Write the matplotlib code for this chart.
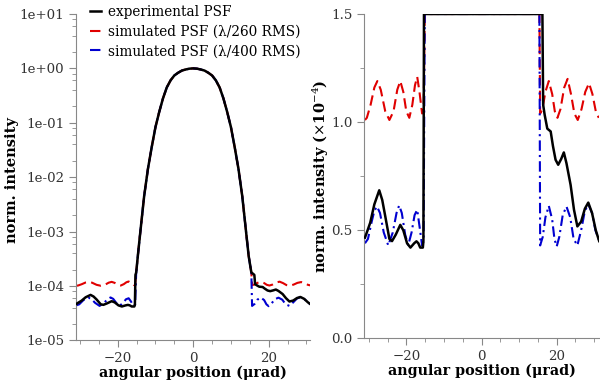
import numpy as np
import matplotlib
matplotlib.use('Agg')
import matplotlib.pyplot as plt
from matplotlib.ticker import MultipleLocator, LogLocator, FuncFormatter, NullFormatter

plt.rcParams['font.family'] = ['DejaVu Serif']
plt.rcParams['mathtext.fontset'] = 'dejavuserif'

# main lobe (shared by all three curves), log10 of the normalised intensity
core_x = [-15.1, -14.6, -14.0, -13.0, -12.0, -11.0, -10.0, -9.0, -8.0, -7.0, -6.0, -5.0, -4.0,
          -3.0, -2.0, -1.0, 0.0, 1.0, 2.0, 3.0, 4.0, 5.0, 6.0, 7.0, 8.0, 9.0, 10.0, 11.0,
          12.0, 13.0, 14.0, 14.7, 15.4]
core_log = [-3.75, -3.4, -3.0, -2.35, -1.85, -1.45, -1.08, -0.8, -0.55, -0.35, -0.22, -0.13, -0.08,
            -0.04, -0.02, -0.005, 0.0, -0.005, -0.02, -0.04, -0.08, -0.13, -0.22, -0.35, -0.55, -0.8,
            -1.08, -1.45, -1.85, -2.35, -3.0, -3.45, -3.75]

# wings, in units of 1e-4
exp_left_x = [-31.0, -30.3, -29.6, -28.5, -27.2, -26.4, -25.6, -24.5, -23.8, -22.8, -21.6, -20.8,
              -19.8, -18.9, -17.9, -17.3, -16.8, -16.3, -15.6, -15.45, -15.3]
exp_left_y = [0.466, 0.50, 0.535, 0.62, 0.685, 0.64, 0.565, 0.46, 0.45, 0.48, 0.525, 0.50,
              0.44, 0.42, 0.44, 0.449, 0.44, 0.42, 0.42, 0.45, 1.6]
exp_right_x = [16.2, 16.4, 16.8, 17.5, 18.4, 19.0, 19.7, 20.4, 21.2, 21.9, 22.6, 23.7, 24.6,
               25.5, 26.5, 27.5, 28.4, 29.4, 30.4, 31.3]
exp_right_y = [1.6, 1.08, 1.034, 0.97, 0.957, 0.89, 0.826, 0.803, 0.83, 0.86, 0.81, 0.71, 0.595,
               0.518, 0.54, 0.60, 0.628, 0.58, 0.50, 0.45]

s260_left_x = [-31.0, -30.5, -29.5, -28.5, -27.7, -26.8, -25.6, -24.5, -23.4, -22.4, -21.6, -20.8,
               -20.0, -19.2, -18.4, -17.7, -17.1, -16.5, -15.8, -15.4]
s260_left_y = [1.01, 1.02, 1.08, 1.16, 1.19, 1.15, 1.05, 1.01, 1.05, 1.15, 1.19, 1.14,
               1.05, 1.02, 1.08, 1.17, 1.21, 1.14, 1.04, 1.05]
s260_right_x = [15.6, 16.2, 17.0, 17.9, 18.8, 19.5, 20.2, 21.0, 22.0, 22.9, 23.8, 24.7, 25.6,
                26.6, 27.6, 28.6, 29.5, 30.4, 31.2]
s260_right_y = [1.04, 1.06, 1.14, 1.19, 1.13, 1.05, 1.02, 1.06, 1.16, 1.20, 1.13, 1.04, 1.01,
                1.06, 1.14, 1.18, 1.13, 1.05, 1.02]

s400_left_x = [-31.0, -30.2, -29.2, -28.5, -27.8, -27.0, -26.0, -24.8, -23.6, -22.6, -21.9, -21.2,
               -20.3, -19.5, -18.6, -17.8, -17.1, -16.5, -15.8, -15.4]
s400_left_y = [0.44, 0.46, 0.54, 0.59, 0.61, 0.58, 0.49, 0.43, 0.49, 0.58, 0.615, 0.58,
               0.48, 0.43, 0.49, 0.57, 0.595, 0.52, 0.43, 0.45]
s400_right_x = [15.6, 16.3, 17.0, 17.9, 18.8, 19.4, 20.0, 20.7, 21.6, 22.6, 23.6, 24.5, 25.5,
                26.5, 27.5, 28.4, 29.4, 30.3, 31.2]
s400_right_y = [0.43, 0.47, 0.56, 0.613, 0.55, 0.46, 0.425, 0.47, 0.57, 0.61, 0.56, 0.46, 0.43,
                0.50, 0.59, 0.62, 0.58, 0.50, 0.457]

labels = ['experimental PSF', 'simulated PSF (\u03bb/260 RMS)', 'simulated PSF (\u03bb/400 RMS)']


def build(lx, ly, rx, ry):
    x = np.concatenate([lx, core_x, rx])
    y = np.concatenate([np.array(ly) * 1e-4, 10.0 ** np.array(core_log), np.array(ry) * 1e-4])
    return x, y


curves = [
    (build(exp_left_x, exp_left_y, exp_right_x, exp_right_y), 'black', '-', 1.8, 3),
    (build(s260_left_x, s260_left_y, s260_right_x, s260_right_y), '#e00000', (0, (5, 2.5)), 1.5, 1),
    (build(s400_left_x, s400_left_y, s400_right_x, s400_right_y), '#0000d0', (0, (5, 2, 1, 2)), 1.5, 2),
]

fig = plt.figure(figsize=(6, 3.89), dpi=100)
ax1 = fig.add_axes([0.127, 0.125, 0.39, 0.839])
ax2 = fig.add_axes([0.607, 0.130, 0.391, 0.834])

# left: log scale
for i, ((x, y), c, ls, lw, z) in enumerate(curves):
    ax1.plot(x, y, color=c, ls=ls, lw=lw, label=labels[i], zorder=z)
ax1.set_yscale('log')
ax1.set_ylim(1e-5, 10)
ax1.set_xlim(-31, 31)
ax1.yaxis.set_major_locator(LogLocator(base=10, numticks=10))
ax1.yaxis.set_minor_locator(LogLocator(base=10, subs=[2, 4, 6, 8], numticks=10))
ax1.yaxis.set_major_formatter(FuncFormatter(lambda v, p: '%.0e' % v))
ax1.yaxis.set_minor_formatter(NullFormatter())
ax1.set_ylabel('norm. intensity', fontweight='bold', fontsize=10.5)
ax1.yaxis.set_label_coords(-0.245, 0.49)
leg = ax1.legend(loc='upper left', bbox_to_anchor=(0.035, 1.045), frameon=False, fontsize=9.8,
                 handlelength=0.85, handletextpad=0.45, labelspacing=0.42, borderaxespad=0.0)

# right: linear zoom in units of 1e-4, clipped at the top like the original
for (x, y), c, ls, lw, z in curves:
    ax2.plot(x, np.minimum(y / 1e-4, 1.5), color=c, ls=ls, lw=lw, zorder=z)
ax2.set_ylim(0, 1.5)
ax2.set_xlim(-31.2, 31.2)
ax2.yaxis.set_major_locator(MultipleLocator(0.5))
ax2.yaxis.set_minor_locator(MultipleLocator(0.25))
ax2.yaxis.set_major_formatter(FuncFormatter(lambda v, p: '%.1f' % v))
ax2.set_ylabel(r'norm. intensity ($\times$10$^{-4}$)', fontweight='bold', fontsize=10.5)
ax2.yaxis.set_label_coords(-0.142, 0.5)

for ax in (ax1, ax2):
    for side in ('top', 'right'):
        ax.spines[side].set_visible(False)
    for side in ('left', 'bottom'):
        ax.spines[side].set_color('#888888')
    ax.xaxis.set_major_locator(MultipleLocator(20))
    ax.xaxis.set_minor_locator(MultipleLocator(5))
    ax.tick_params(which='major', length=5, color='#888888', labelsize=9.6, labelcolor='#333333')
    ax.tick_params(which='minor', length=3, color='#888888')
    ax.set_xlabel('angular position (\u03bcrad)', fontweight='bold', fontsize=10.3, labelpad=0)

fig.savefig('out.png', dpi=100)
